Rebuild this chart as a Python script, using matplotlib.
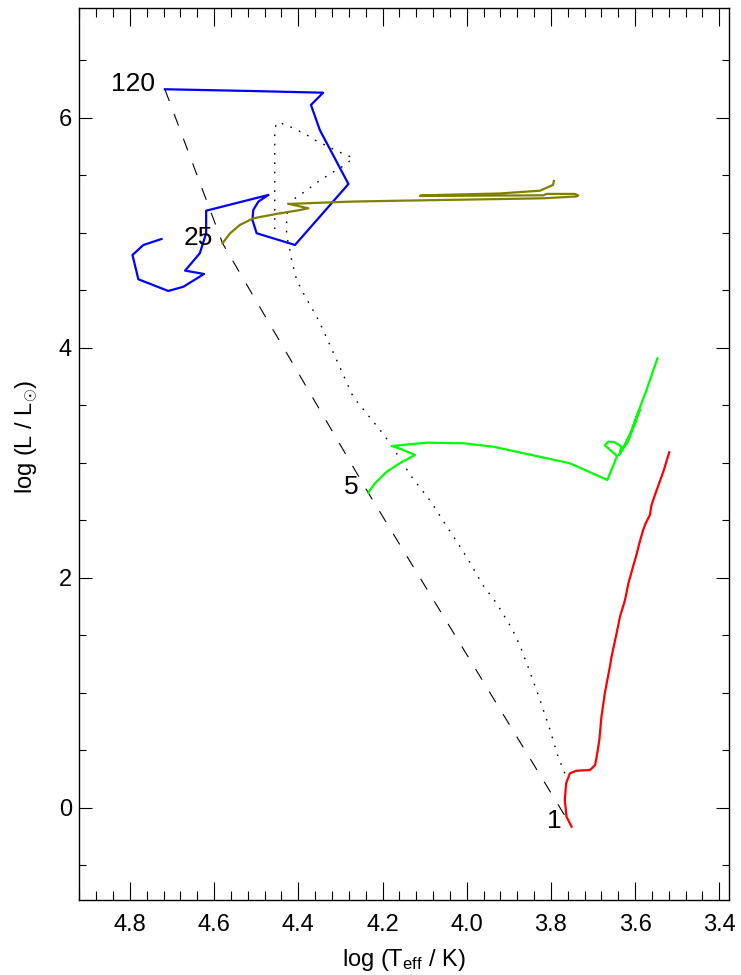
import matplotlib
matplotlib.use('Agg')
import matplotlib.pyplot as plt
from matplotlib.ticker import MultipleLocator, FormatStrFormatter

plt.rcParams['font.family'] = ['Liberation Sans', 'DejaVu Sans']
plt.rcParams['mathtext.fontset'] = 'custom'
plt.rcParams['mathtext.rm'] = 'Liberation Sans'
plt.rcParams['mathtext.it'] = 'Liberation Sans:italic'
plt.rcParams['lines.scale_dashes'] = False

# zero-age main sequence (dashed), one vertex per labelled mass
zams_mass = ['120', '25', '5', '1']
zams_logt = [4.717, 4.580, 4.234, 3.751]
zams_logl = [6.247, 4.908, 2.739, -0.165]

# end of core hydrogen burning (dotted)
tams_logt = [3.767, 3.783, 3.802, 3.826, 3.850, 3.874, 3.893, 3.929, 3.962,
             3.996, 4.016, 4.087, 4.131, 4.182, 4.206, 4.270, 4.341, 4.356,
             4.388, 4.404, 4.412, 4.416, 4.420, 4.424, 4.428, 4.428, 4.426,
             4.424, 4.414, 4.396, 4.376, 4.361, 4.341, 4.309, 4.289, 4.270,
             4.285, 4.305, 4.321, 4.345, 4.361, 4.380, 4.400, 4.420, 4.440,
             4.453, 4.456, 4.456]
tams_logl = [0.299, 0.443, 0.676, 0.937, 1.183, 1.415, 1.560, 1.777, 1.937,
             2.154, 2.270, 2.670, 2.878, 3.169, 3.285, 3.574, 4.154, 4.267,
             4.473, 4.589, 4.704, 4.763, 4.850, 4.908, 4.995, 5.082, 5.169,
             5.256, 5.284, 5.328, 5.380, 5.423, 5.473, 5.545, 5.589, 5.647,
             5.676, 5.704, 5.734, 5.777, 5.806, 5.850, 5.887, 5.922, 5.951,
             5.951, 5.850, 4.965]

# 120 Msun track
m120_logt = [4.717, 4.515, 4.341, 4.370, 4.349, 4.281, 4.408, 4.499, 4.509,
             4.507, 4.495, 4.471, 4.619, 4.619, 4.634, 4.669, 4.624, 4.673,
             4.709, 4.780, 4.794, 4.768, 4.725]
m120_logl = [6.247, 6.232, 6.217, 6.111, 5.893, 5.423, 4.893, 4.995, 5.110,
             5.197, 5.270, 5.328, 5.191, 4.995, 4.821, 4.670, 4.641, 4.530,
             4.493, 4.595, 4.806, 4.893, 4.945]

# 25 Msun track
m25_logt = [4.580, 4.562, 4.539, 4.507, 4.452, 4.396, 4.376, 4.422, 4.277,
            4.159, 3.961, 3.818, 3.739, 3.735, 3.743, 3.810, 3.818, 4.111,
            4.109, 3.921, 3.826, 3.795, 3.793]
m25_logl = [4.908, 4.995, 5.067, 5.125, 5.163, 5.197, 5.212, 5.250, 5.270,
            5.278, 5.290, 5.299, 5.315, 5.323, 5.337, 5.337, 5.325, 5.319,
            5.324, 5.341, 5.365, 5.415, 5.450]

# 5 Msun track
m5_logt = [4.234, 4.218, 4.190, 4.159, 4.123, 4.155, 4.178, 4.095, 4.008,
           3.937, 3.755, 3.666, 3.643, 3.672, 3.664, 3.650, 3.632, 3.638,
           3.620, 3.600, 3.589, 3.595, 3.616, 3.627, 3.608, 3.585, 3.573,
           3.547]
m5_logl = [2.739, 2.821, 2.922, 2.995, 3.067, 3.117, 3.145, 3.174, 3.169,
           3.139, 2.995, 2.850, 3.058, 3.151, 3.183, 3.180, 3.139, 3.067,
           3.169, 3.343, 3.458, 3.415, 3.197, 3.139, 3.284, 3.517, 3.632,
           3.908]

# 1 Msun track
m1_logt = [3.751, 3.763, 3.767, 3.764, 3.755, 3.739, 3.707, 3.695, 3.690,
           3.685, 3.680, 3.672, 3.660, 3.656, 3.644, 3.636, 3.624, 3.616,
           3.605, 3.598, 3.590, 3.581, 3.575, 3.565, 3.561, 3.553, 3.543,
           3.533, 3.519]
m1_logl = [-0.165, -0.078, 0.067, 0.212, 0.299, 0.322, 0.328, 0.371, 0.473,
           0.589, 0.791, 0.995, 1.226, 1.313, 1.517, 1.661, 1.806, 1.951,
           2.096, 2.183, 2.299, 2.415, 2.473, 2.545, 2.632, 2.719, 2.821,
           2.922, 3.090]

fig = plt.figure(figsize=(7.41, 9.75), dpi=100)
ax = fig.add_axes([0.1066, 0.0766, 0.8772, 0.9149])

ax.plot(zams_logt, zams_logl, color='black', lw=0.8, dashes=(9, 10))
ax.plot(tams_logt, tams_logl, color='black', lw=1.0, dashes=(1.2, 5.5))

ax.plot(m120_logt, m120_logl, color='#0000ff', lw=1.6)
ax.plot(m25_logt, m25_logl, color='#808000', lw=1.6)
ax.plot(m5_logt, m5_logl, color='#00ff00', lw=1.6)
ax.plot(m1_logt, m1_logl, color='#ff0000', lw=1.6)

for m, t, l in zip(zams_mass, zams_logt, zams_logl):
    ax.annotate(m, (t, l), xytext=(-7, -1), textcoords='offset points',
                ha='right', va='baseline', fontsize=19)

ax.set_xlim(4.921, 3.377)
ax.set_ylim(-0.805, 6.951)

ax.xaxis.set_major_locator(MultipleLocator(0.2))
ax.xaxis.set_minor_locator(MultipleLocator(0.04))
ax.yaxis.set_major_locator(MultipleLocator(2))
ax.yaxis.set_minor_locator(MultipleLocator(0.5))
ax.xaxis.set_major_formatter(FormatStrFormatter('%.1f'))
ax.yaxis.set_major_formatter(FormatStrFormatter('%d'))

ax.tick_params(which='both', direction='in', top=True, right=True)
ax.tick_params(axis='x', which='major', length=13, width=0.8, labelsize=17, pad=10)
ax.tick_params(axis='x', which='minor', length=6.5, width=0.8)
ax.tick_params(axis='y', which='major', length=9.4, width=0.8, labelsize=17, pad=5)
ax.tick_params(axis='y', which='minor', length=4.7, width=0.8)
for s in ax.spines.values():
    s.set_linewidth(1.0)

ax.set_xlabel(r'log (T$_{\mathrm{eff}}$ / K)', fontsize=17)
ax.set_ylabel(r'log (L / L$_{\odot}$)', fontsize=17)
ax.xaxis.set_label_coords(0.5, -0.0524)
ax.yaxis.set_label_coords(-0.06, 0.52)

fig.savefig('out.png', dpi=100)
